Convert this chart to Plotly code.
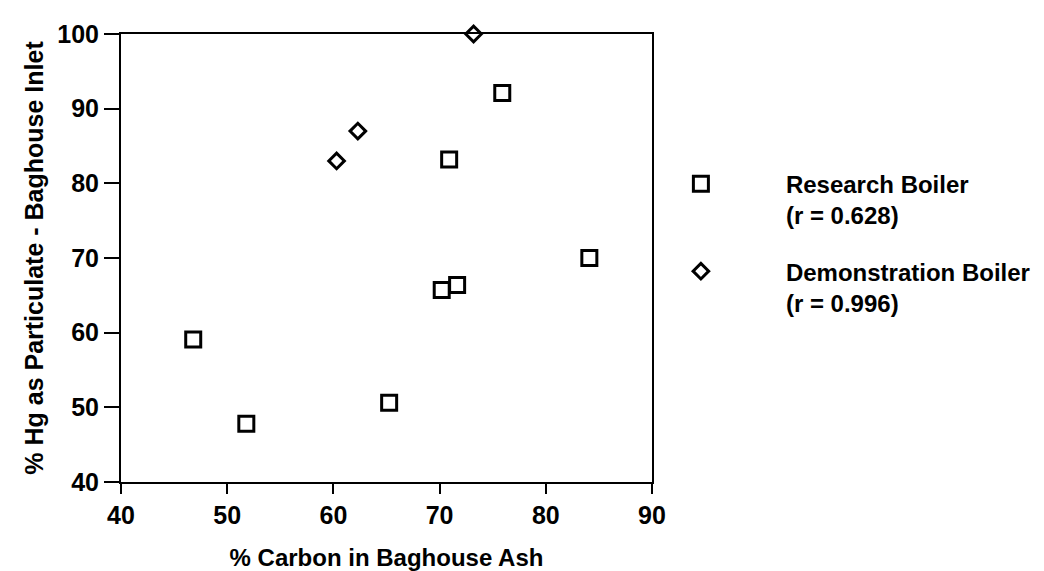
import plotly.graph_objects as go

research_x = [46.8, 51.8, 65.25, 70.2, 71.65, 70.9, 75.9, 84.1]
research_y = [59.1, 47.8, 50.6, 65.7, 66.4, 83.2, 92.1, 70.0]
demo_x = [60.3, 62.3, 73.2]
demo_y = [83.0, 87.0, 100.0]

x_ticks = [40, 50, 60, 70, 80, 90]
y_ticks = [40, 50, 60, 70, 80, 90, 100]

FONT = "Liberation Sans, Arial, sans-serif"

fig = go.Figure()
fig.add_trace(go.Scatter(
    x=research_x, y=research_y, mode="markers",
    name="Research Boiler<br>(r = 0.628)", legendgroup="a",
    marker=dict(symbol="square-open", size=15, color="black", line=dict(width=3, color="black")),
    cliponaxis=False,
))
fig.add_trace(go.Scatter(
    x=demo_x, y=demo_y, mode="markers",
    name="Demonstration Boiler<br>(r = 0.996)", legendgroup="b",
    marker=dict(symbol="diamond-open", size=12, color="black", line=dict(width=3, color="black")),
    cliponaxis=False,
))

axis_common = dict(
    showgrid=False, zeroline=False, showline=True, linecolor="black", linewidth=2,
    mirror=True, ticks="outside", tickcolor="black", tickwidth=2,
    tickfont=dict(family=FONT, size=25, color="black", weight="bold"),
)

fig.update_layout(
    width=1044, height=571,
    paper_bgcolor="white", plot_bgcolor="white",
    margin=dict(l=113, r=400, t=21, b=95),
    font=dict(family=FONT, color="black"),
    xaxis=dict(range=[40, 90], tickvals=x_ticks, ticklen=10,
               title=dict(text="% Carbon in Baghouse Ash",
                          font=dict(family=FONT, size=24, weight="bold"), standoff=21),
               **axis_common),
    yaxis=dict(range=[40, 100], tickvals=y_ticks, ticklen=15,
               title=dict(text="% Hg as Particulate - Baghouse Inlet",
                          font=dict(family=FONT, size=25, weight="bold"), standoff=7),
               **axis_common),
    showlegend=True,
    legend=dict(x=0.932, y=0.715, xanchor="left", yanchor="top",
                font=dict(family=FONT, size=24, color="black", weight="bold"),
                itemwidth=160, valign="top", bgcolor="rgba(0,0,0,0)",
                tracegroupgap=22),
)

fig.write_html("out.html")
